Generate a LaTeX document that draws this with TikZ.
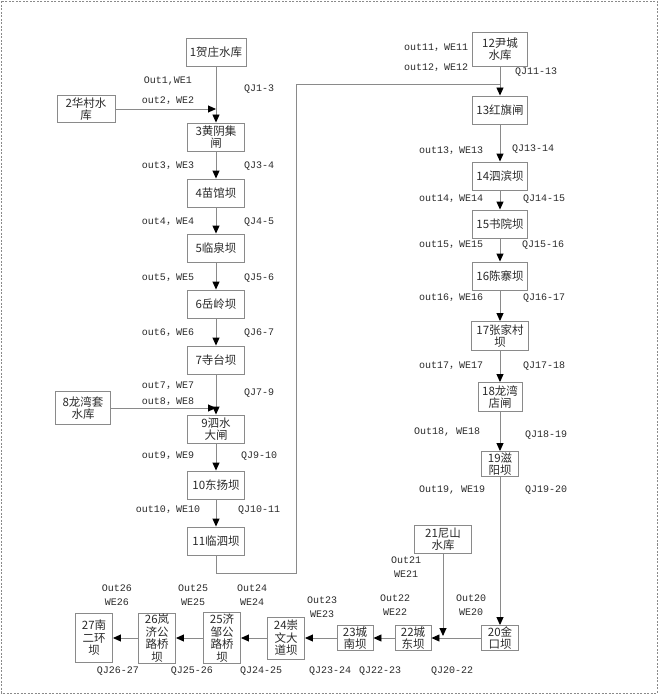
\documentclass[tikz,border=0pt]{standalone}
\usepackage{fontspec}
\setmainfont{Noto Sans CJK SC}
\newfontfamily\labfont{Liberation Mono}
\newfontfamily\cjkf{Noto Sans CJK SC}
\usetikzlibrary{arrows.meta}
\newcommand\fw{{\cjkf ，}}
\definecolor{boxgray}{HTML}{8A8A8A}
\definecolor{linegray}{HTML}{8A8A8A}
\definecolor{txt}{HTML}{2A2A2A}
\tikzset{
  box/.style={draw=boxgray, line width=0.9bp, inner sep=0pt, align=center,
    font=\fontsize{11.5bp}{12.5bp}\selectfont, text=txt},
  lab/.style={inner sep=0pt, align=center, text=txt,
    font=\labfont\fontsize{10bp}{14bp}\selectfont},
  flow/.style={draw=linegray, line width=0.9bp, -{Triangle[length=8bp,width=7bp,color=black]}},
  plain/.style={draw=linegray, line width=0.9bp},
}
\begin{document}
\begin{tikzpicture}[x=1bp,y=-1bp]
\useasboundingbox (0,0) rectangle (661,698);
\draw[boxgray, line width=0.8bp, dash pattern=on 2bp off 1.5bp] (1.5,1.5) rectangle (657,693);

% left column
\node[box, minimum width=60bp, minimum height=28bp] (n1) at (216,52) {1贺庄水库};
\node[box, minimum width=58bp, minimum height=27bp] (n2) at (86,109) {2华村水\\库};
\node[box, minimum width=57bp, minimum height=28bp] (n3) at (216,137) {3黄阴集\\闸};
\node[box, minimum width=57bp, minimum height=28bp] (n4) at (216,193) {4苗馆坝};
\node[box, minimum width=57bp, minimum height=28bp] (n5) at (216,248) {5临泉坝};
\node[box, minimum width=57bp, minimum height=28bp] (n6) at (216,304) {6岳岭坝};
\node[box, minimum width=57bp, minimum height=28bp] (n7) at (216,360) {7寺台坝};
\node[box, minimum width=55bp, minimum height=33bp] (n8) at (83,408) {8龙湾套\\水库};
\node[box, minimum width=57bp, minimum height=28bp] (n9) at (216,429) {9泗水\\大闸};
\node[box, minimum width=57bp, minimum height=28bp] (n10) at (216,485) {10东扬坝};
\node[box, minimum width=57bp, minimum height=28bp] (n11) at (216,541) {11临泗坝};

% right column
\node[box, minimum width=55bp, minimum height=34bp] (n12) at (500,49) {12尹城\\水库};
\node[box, minimum width=55bp, minimum height=28bp] (n13) at (500,110) {13红旗闸};
\node[box, minimum width=55bp, minimum height=28bp] (n14) at (500,176) {14泗滨坝};
\node[box, minimum width=55bp, minimum height=28bp] (n15) at (500,224) {15书院坝};
\node[box, minimum width=55bp, minimum height=28bp] (n16) at (500,276) {16陈寨坝};
\node[box, minimum width=57bp, minimum height=29bp] (n17) at (500,336) {17张家村\\坝};
\node[box, minimum width=44bp, minimum height=29bp] (n18) at (500,397) {18龙湾\\店闸};
\node[box, minimum width=37bp, minimum height=25bp] (n19) at (500,464) {19滋\\阳坝};
\node[box, minimum width=37bp, minimum height=25bp] (n20) at (500,638) {20金\\口坝};
\node[box, minimum width=57bp, minimum height=28bp] (n21) at (443,539) {21尼山\\水库};
\node[box, minimum width=36bp, minimum height=25bp] (n22) at (413,638) {22城\\东坝};
\node[box, minimum width=36bp, minimum height=25bp] (n23) at (355,638) {23城\\南坝};
\node[box, minimum width=37bp, minimum height=42bp] (n24) at (286,638) {24崇\\文大\\道坝};
\node[box, minimum width=37bp, minimum height=51bp] (n25) at (222,638) {25济\\邹公\\路桥\\坝};
\node[box, minimum width=37bp, minimum height=50bp] (n26) at (157,638) {26岚\\济公\\路桥\\坝};
\node[box, minimum width=37bp, minimum height=49bp] (n27) at (94,638) {27南\\二环\\坝};

% junctions
\coordinate (j2) at (216,109);
\coordinate (j8) at (216,408);
\coordinate (c2) at (296,573);
\coordinate (j12) at (500,84);
\coordinate (j21) at (443,636);

% connectors left column
\draw[flow] (n1.south) -- (n3.north);
\draw[flow] (n2.east) -- (j2);
\draw[flow] (n3) -- (n4);
\draw[flow] (n4) -- (n5);
\draw[flow] (n5) -- (n6);
\draw[flow] (n6) -- (n7);
\draw[flow] (n7) -- (n9);
\draw[flow] (n8.east |- j8) -- (j8);
\draw[flow] (n9) -- (n10);
\draw[flow] (n10) -- (n11);
\draw[plain] (n11.south) |- (c2) |- (j12);

% connectors right column
\draw[flow] (n12) -- (n13);
\draw[flow] (n13) -- (n14);
\draw[flow] (n14) -- (n15);
\draw[flow] (n15) -- (n16);
\draw[flow] (n16) -- (n17);
\draw[flow] (n17) -- (n18);
\draw[flow] (n18) -- (n19);
\draw[flow] (n19) -- (n20);
\draw[flow] (n20) -- (n22);
\draw[flow] (n21.south) -- (j21);
\draw[flow] (n22) -- (n23);
\draw[flow] (n23) -- (n24);
\draw[flow] (n24) -- (n25);
\draw[flow] (n25) -- (n26);
\draw[flow] (n26) -- (n27);

% labels left column
\node[lab] (l1) at (168,81) {Out1,WE1};
\node[lab] (q1) at (259,89) {QJ1-3};
\node[lab] (l2) at (168,101) {out2\fw WE2};
\node[lab] (l3) at (168,166) {out3\fw WE3};
\node[lab] (q3) at (259,166) {QJ3-4};
\node[lab] (l4) at (168,222) {out4\fw WE4};
\node[lab] (q4) at (259,222) {QJ4-5};
\node[lab] (l5) at (168,278) {out5\fw WE5};
\node[lab] (q5) at (259,278) {QJ5-6};
\node[lab] (l6) at (168,333) {out6\fw WE6};
\node[lab] (q6) at (259,333) {QJ6-7};
\node[lab] (l7) at (168,386) {out7\fw WE7};
\node[lab] (q7) at (259,393) {QJ7-9};
\node[lab] (l8) at (168,402) {out8\fw WE8};
\node[lab] (l9) at (168,456) {out9\fw WE9};
\node[lab] (q9) at (259,456) {QJ9-10};
\node[lab] (l10) at (168,510) {out10\fw WE10};
\node[lab] (q10) at (259,510) {QJ10-11};

% labels right column
\node[lab] (l11) at (436,48) {out11\fw WE11};
\node[lab] (l12) at (436,68) {out12\fw WE12};
\node[lab] (q11) at (536,72) {QJ11-13};
\node[lab] (l13) at (451,151) {out13\fw WE13};
\node[lab] (q13) at (533,149) {QJ13-14};
\node[lab] (l14) at (451,199) {out14\fw WE14};
\node[lab] (q14) at (544,199) {QJ14-15};
\node[lab] (l15) at (451,245) {out15\fw WE15};
\node[lab] (q15) at (543,245) {QJ15-16};
\node[lab] (l16) at (451,298) {out16\fw WE16};
\node[lab] (q16) at (544,298) {QJ16-17};
\node[lab] (l17) at (451,366) {out17\fw WE17};
\node[lab] (q17) at (544,366) {QJ17-18};
\node[lab] (l18) at (447,432) {Out18, WE18};
\node[lab] (q18) at (546,435) {QJ18-19};
\node[lab] (l19) at (452,490) {Out19, WE19};
\node[lab] (q19) at (546,490) {QJ19-20};

% labels bottom
\node[lab] (l21) at (406,567) {Out21\\WE21};
\node[lab] (l22) at (395,605.5) {Out22\\WE22};
\node[lab] (l20) at (471,605.5) {Out20\\WE20};
\node[lab] (l23) at (322,607.5) {Out23\\WE23};
\node[lab] (l24) at (252,595.5) {Out24\\WE24};
\node[lab] (l25) at (193,595.5) {Out25\\WE25};
\node[lab] (l26) at (117,595.5) {Out26\\WE26};
\node[lab] (q20) at (452,671) {QJ20-22};
\node[lab] (q22) at (380,671) {QJ22-23};
\node[lab] (q23) at (330,671) {QJ23-24};
\node[lab] (q24) at (261,671) {QJ24-25};
\node[lab] (q25) at (192,671) {QJ25-26};
\node[lab] (q26) at (118,671) {QJ26-27};
\end{tikzpicture}
\end{document}
